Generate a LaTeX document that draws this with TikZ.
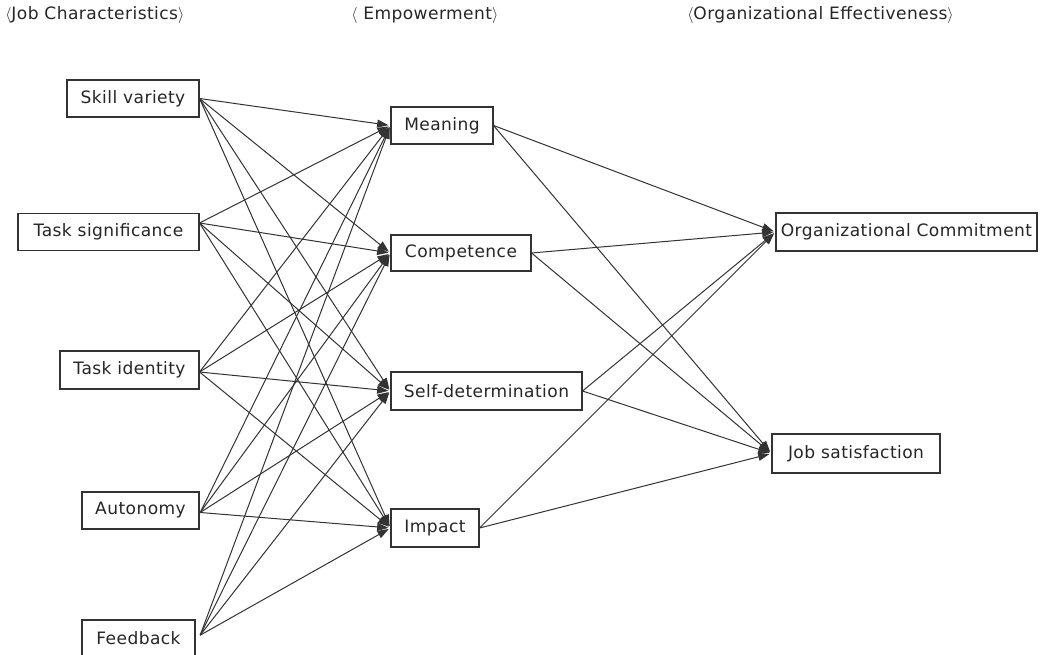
\documentclass[tikz,border=0pt]{standalone}
\usepackage{fontspec}
\setmainfont{DejaVu Sans}[LetterSpace=2.5]
\usetikzlibrary{arrows.meta}
\newcommand\pxu{0.75pt}
\begin{document}
\begin{tikzpicture}[x=0.75pt,y=-0.75pt,
  lbl/.style={font=\fontsize{12.8pt}{14pt}\selectfont, text=black!85},
  hdr/.style={lbl, anchor=west, inner sep=0pt},
  box/.style={lbl, draw=black!80, line width=0.8pt, inner sep=0pt, align=center},
  link/.style={draw=black!80, line width=0.75pt, -{Triangle[length=8.5pt,width=6pt]}, shorten >=1.5pt}
]
\useasboundingbox (0,0) rectangle (1042,655);
\fill[white] (0,0) rectangle (1042,655);

% headers
\node[hdr] (h1) at (5,15) {$\langle$Job Characteristics$\rangle$};
\node[hdr] (h2) at (351,15) {$\langle$ Empowerment$\rangle$};
\node[hdr] (h3) at (687,15) {$\langle$Organizational Effectiveness$\rangle$};

% left column
\node[box, minimum width={132*\pxu}, minimum height={37*\pxu}] (sv) at (133,98.5) {Skill variety};
\node[box, minimum width={181*\pxu}, minimum height={37*\pxu}] (ts) at (108.5,232) {Task significance};
\node[box, minimum width={139*\pxu}, minimum height={38*\pxu}] (ti) at (129.5,370) {Task identity};
\node[box, minimum width={117*\pxu}, minimum height={37*\pxu}] (au) at (140.5,510.5) {Autonomy};
\node[box, minimum width={113*\pxu}, minimum height={37*\pxu}] (fb) at (138.5,638.5) {Feedback};

% middle column
\node[box, minimum width={102*\pxu}, minimum height={37*\pxu}] (me) at (442,125.5) {Meaning};
\node[box, minimum width={140*\pxu}, minimum height={36*\pxu}] (co) at (461,253) {Competence};
\node[box, minimum width={191*\pxu}, minimum height={38*\pxu}] (sd) at (486.5,391) {Self-determination};
\node[box, minimum width={88*\pxu}, minimum height={38*\pxu}] (im) at (435,528) {Impact};

% right column
\node[box, minimum width={261*\pxu}, minimum height={38*\pxu}] (oc) at (906.5,232) {Organizational Commitment};
\node[box, minimum width={168*\pxu}, minimum height={39*\pxu}] (js) at (856,453.5) {Job satisfaction};

% coordinates for the start of the connectors
\coordinate (svs) at (sv.east);
\coordinate (tss) at ([yshift=6.75pt]ts.east);
\coordinate (tis) at ([yshift=-1.5pt]ti.east);
\coordinate (aus) at ([yshift=-1.5pt,xshift=0.5pt]au.east);
\coordinate (fbs) at ([yshift=2.5pt,xshift=3.5pt]fb.east);

% left to middle
\foreach \s in {svs,tss,tis,aus,fbs}{
  \foreach \t in {me,co,sd,im}{
    \draw[link] (\s) -- (\t.west);
  }
}

% middle to right
\foreach \s in {me,co,sd,im}{
  \foreach \t in {oc,js}{
    \draw[link] (\s.east) -- (\t.west);
  }
}
\end{tikzpicture}
\end{document}
